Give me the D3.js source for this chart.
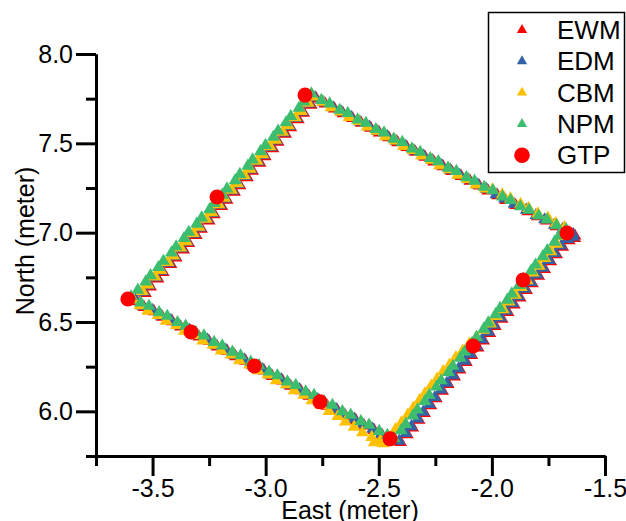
<!DOCTYPE html>
<html>
<head>
<meta charset="utf-8">
<script src="https://cdn.jsdelivr.net/npm/d3@7"></script>
<style>
  body { margin: 0; background: #fff; }
  svg text { font-family: Arial, "Liberation Sans", sans-serif; fill: #000; }
</style>
</head>
<body>
<div id="chart"></div>
<script>
// Estimated trajectories, [East, North] in meters
var ewm = [
  [-1.633,6.982],[-1.681,7.013],[-1.717,7.035],[-1.760,7.066],[-1.799,7.091],[-1.841,7.119],[-1.895,7.153],[-1.939,7.181],[-1.975,7.208],[-2.018,7.235],[-2.056,7.262],[-2.097,7.289],[-2.136,7.316],[-2.178,7.343],[-2.216,7.370],[-2.257,7.397],[-2.296,7.424],[-2.338,7.451],[-2.376,7.478],[-2.417,7.505],[-2.456,7.532],[-2.498,7.559],[-2.536,7.586],[-2.577,7.613],[-2.616,7.640],[-2.658,7.667],[-2.696,7.694],[-2.737,7.721],
  [-2.776,7.750],[-2.799,7.714],[-2.832,7.669],[-2.856,7.633],[-2.889,7.588],[-2.912,7.552],[-2.945,7.507],[-2.968,7.471],[-3.002,7.426],[-3.025,7.390],[-3.058,7.345],[-3.081,7.309],[-3.114,7.264],[-3.138,7.228],[-3.171,7.183],[-3.194,7.147],[-3.227,7.102],[-3.250,7.066],[-3.284,7.021],[-3.307,6.985],[-3.340,6.940],[-3.363,6.904],[-3.396,6.859],[-3.419,6.823],[-3.453,6.778],[-3.476,6.742],[-3.509,6.697],[-3.532,6.661],
  [-3.569,6.615],[-3.538,6.583],[-3.494,6.559],[-3.457,6.528],[-3.413,6.503],[-3.376,6.473],[-3.332,6.448],[-3.295,6.417],[-3.251,6.393],[-3.214,6.362],[-3.170,6.337],[-3.133,6.307],[-3.089,6.282],[-3.052,6.251],[-3.007,6.227],[-2.971,6.196],[-2.926,6.171],[-2.890,6.141],[-2.845,6.116],[-2.809,6.085],[-2.764,6.060],[-2.728,6.030],[-2.683,6.005],[-2.647,5.974],[-2.602,5.950],[-2.565,5.919],[-2.521,5.894],[-2.484,5.864],[-2.446,5.835],
  [-2.404,5.827],[-2.374,5.870],[-2.350,5.908],[-2.322,5.951],[-2.298,5.989],[-2.270,6.032],[-2.246,6.071],[-2.218,6.113],[-2.193,6.152],[-2.165,6.194],[-2.141,6.233],[-2.113,6.275],[-2.089,6.314],[-2.061,6.356],[-2.037,6.395],[-2.009,6.437],[-1.985,6.476],[-1.955,6.516],[-1.929,6.555],[-1.901,6.596],[-1.875,6.635],[-1.847,6.677],[-1.821,6.715],[-1.793,6.757],[-1.767,6.795],[-1.740,6.838],[-1.714,6.877],[-1.687,6.919],[-1.658,6.956],[-1.634,6.968]
];

var edm = [
  [-1.640,6.990],[-1.687,7.019],[-1.724,7.043],[-1.767,7.073],[-1.805,7.097],[-1.848,7.127],[-1.902,7.160],[-1.944,7.189],[-1.982,7.214],[-2.024,7.243],[-2.062,7.268],[-2.104,7.297],[-2.142,7.322],[-2.184,7.351],[-2.222,7.376],[-2.264,7.405],[-2.302,7.430],[-2.344,7.459],[-2.382,7.484],[-2.424,7.513],[-2.462,7.538],[-2.504,7.567],[-2.542,7.592],[-2.584,7.621],[-2.622,7.646],[-2.664,7.675],[-2.702,7.700],[-2.744,7.729],
  [-2.782,7.757],[-2.806,7.721],[-2.838,7.676],[-2.863,7.640],[-2.895,7.595],[-2.919,7.559],[-2.951,7.514],[-2.975,7.478],[-3.008,7.433],[-3.032,7.397],[-3.064,7.352],[-3.088,7.316],[-3.120,7.271],[-3.145,7.235],[-3.177,7.190],[-3.201,7.154],[-3.233,7.109],[-3.257,7.073],[-3.290,7.028],[-3.314,6.992],[-3.346,6.947],[-3.370,6.911],[-3.402,6.866],[-3.426,6.830],[-3.459,6.785],[-3.483,6.749],[-3.515,6.704],[-3.539,6.668],
  [-3.575,6.622],[-3.544,6.590],[-3.500,6.566],[-3.463,6.535],[-3.419,6.510],[-3.382,6.480],[-3.338,6.455],[-3.301,6.424],[-3.257,6.400],[-3.220,6.369],[-3.176,6.344],[-3.139,6.314],[-3.095,6.289],[-3.058,6.258],[-3.013,6.234],[-2.977,6.203],[-2.932,6.178],[-2.896,6.148],[-2.851,6.123],[-2.815,6.092],[-2.770,6.067],[-2.734,6.037],[-2.689,6.012],[-2.653,5.981],[-2.608,5.957],[-2.571,5.926],[-2.527,5.901],[-2.490,5.871],[-2.452,5.842],
  [-2.410,5.834],[-2.380,5.877],[-2.356,5.915],[-2.328,5.958],[-2.304,5.996],[-2.276,6.039],[-2.252,6.078],[-2.224,6.120],[-2.199,6.159],[-2.171,6.201],[-2.147,6.240],[-2.119,6.282],[-2.095,6.321],[-2.067,6.363],[-2.043,6.402],[-2.015,6.444],[-1.991,6.483],[-1.961,6.523],[-1.935,6.562],[-1.907,6.603],[-1.881,6.642],[-1.853,6.684],[-1.827,6.722],[-1.799,6.764],[-1.773,6.802],[-1.746,6.845],[-1.720,6.884],[-1.693,6.926],[-1.664,6.963],[-1.640,6.975]
];

var cbm = [
  [-1.679,7.029],[-1.717,7.051],[-1.752,7.083],[-1.797,7.106],[-1.838,7.137],[-1.873,7.160],[-1.918,7.190],[-1.954,7.213],[-1.997,7.240],[-2.029,7.245],[-2.071,7.268],[-2.108,7.299],[-2.151,7.322],[-2.189,7.353],[-2.231,7.376],[-2.268,7.407],[-2.311,7.430],[-2.349,7.461],[-2.391,7.484],[-2.428,7.515],[-2.471,7.538],[-2.509,7.569],[-2.551,7.592],[-2.588,7.623],[-2.631,7.646],[-2.669,7.677],[-2.711,7.700],[-2.748,7.731],
  [-2.790,7.760],[-2.812,7.725],[-2.843,7.680],[-2.869,7.644],[-2.900,7.599],[-2.925,7.563],[-2.956,7.518],[-2.981,7.482],[-3.013,7.437],[-3.038,7.401],[-3.069,7.356],[-3.094,7.320],[-3.125,7.275],[-3.151,7.239],[-3.182,7.194],[-3.207,7.158],[-3.238,7.113],[-3.263,7.077],[-3.295,7.032],[-3.320,6.996],[-3.351,6.951],[-3.376,6.915],[-3.407,6.870],[-3.432,6.834],[-3.464,6.789],[-3.489,6.753],[-3.520,6.708],[-3.545,6.672],
  [-3.585,6.625],[-3.556,6.592],[-3.521,6.561],[-3.476,6.537],[-3.440,6.505],[-3.395,6.482],[-3.359,6.450],[-3.314,6.426],[-3.278,6.395],[-3.233,6.371],[-3.197,6.339],[-3.152,6.316],[-3.116,6.284],[-3.071,6.260],[-3.034,6.229],[-2.990,6.205],[-2.953,6.173],[-2.909,6.150],[-2.874,6.117],[-2.832,6.091],[-2.795,6.060],[-2.754,6.034],[-2.720,6.000],[-2.681,5.972],[-2.648,5.941],[-2.609,5.912],[-2.572,5.882],[-2.531,5.855],[-2.520,5.825],[-2.493,5.835],[-2.480,5.820],
  [-2.455,5.852],[-2.426,5.899],[-2.400,5.936],[-2.372,5.980],[-2.348,6.017],[-2.320,6.061],[-2.296,6.099],[-2.268,6.142],[-2.243,6.180],[-2.215,6.223],[-2.187,6.260],[-2.159,6.302],[-2.129,6.338],[-2.099,6.379],[-2.068,6.414],[-2.037,6.455],[-2.006,6.490],[-1.979,6.532],[-1.950,6.570],[-1.924,6.613],[-1.896,6.651],[-1.870,6.694],[-1.844,6.732],[-1.818,6.775],[-1.791,6.813],[-1.766,6.856],[-1.739,6.894],[-1.713,6.937],[-1.688,6.980]
];

var npm = [
  [-1.672,7.018],[-1.714,7.040],[-1.756,7.072],[-1.793,7.094],[-1.836,7.127],[-1.874,7.146],[-1.917,7.181],[-1.953,7.201],[-1.996,7.236],[-2.034,7.255],[-2.077,7.289],[-2.113,7.309],[-2.157,7.344],[-2.194,7.362],[-2.237,7.398],[-2.273,7.416],[-2.317,7.451],[-2.354,7.470],[-2.396,7.506],[-2.434,7.524],[-2.477,7.559],[-2.513,7.578],[-2.557,7.613],[-2.594,7.632],[-2.637,7.668],[-2.673,7.686],[-2.717,7.722],[-2.754,7.741],
  [-2.798,7.778],[-2.831,7.733],[-2.853,7.697],[-2.889,7.651],[-2.910,7.616],[-2.945,7.570],[-2.966,7.535],[-3.001,7.489],[-3.023,7.454],[-3.058,7.408],[-3.079,7.373],[-3.114,7.327],[-3.135,7.292],[-3.171,7.246],[-3.192,7.211],[-3.227,7.165],[-3.248,7.130],[-3.283,7.084],[-3.305,7.049],[-3.340,7.003],[-3.361,6.968],[-3.396,6.922],[-3.417,6.887],[-3.452,6.841],[-3.474,6.806],[-3.509,6.760],[-3.530,6.725],[-3.565,6.679],
  [-3.595,6.642],[-3.553,6.608],[-3.516,6.589],[-3.471,6.553],[-3.435,6.533],[-3.390,6.498],[-3.354,6.478],[-3.309,6.442],[-3.273,6.423],[-3.228,6.387],[-3.192,6.367],[-3.147,6.332],[-3.111,6.312],[-3.066,6.276],[-3.029,6.257],[-2.985,6.221],[-2.948,6.201],[-2.904,6.166],[-2.867,6.146],[-2.823,6.110],[-2.786,6.090],[-2.742,6.055],[-2.705,6.035],[-2.661,5.999],[-2.624,5.980],[-2.579,5.944],[-2.543,5.924],[-2.498,5.889],[-2.462,5.866],
  [-2.432,5.848],[-2.401,5.893],[-2.381,5.928],[-2.349,5.975],[-2.329,6.009],[-2.297,6.056],[-2.277,6.091],[-2.245,6.137],[-2.224,6.172],[-2.192,6.218],[-2.172,6.253],[-2.140,6.299],[-2.120,6.334],[-2.088,6.380],[-2.068,6.415],[-2.036,6.461],[-2.016,6.496],[-1.984,6.542],[-1.964,6.577],[-1.932,6.623],[-1.912,6.658],[-1.880,6.705],[-1.860,6.739],[-1.827,6.786],[-1.807,6.820],[-1.775,6.867],[-1.755,6.901],[-1.723,6.948],[-1.703,6.982]
];

// ground truth points
var gtpEast  = [-2.826, -3.215, -3.609, -3.330, -3.050, -2.760, -2.450, -2.083, -1.862, -1.668];
var gtpNorth = [ 7.770,  7.200,  6.629,  6.444,  6.254,  6.053,  5.846,  6.366,  6.735,  6.998];

var seriesNames = ['EWM', 'EDM', 'CBM', 'NPM', 'GTP'];
var xTicks = [-3.5, -3.0, -2.5, -2.0, -1.5];
var xMinor = [-3.75, -3.25, -2.75, -2.25, -1.75];
var yTicks = [6.0, 6.5, 7.0, 7.5, 8.0];
var yMinor = [5.75, 6.25, 6.75, 7.25, 7.75];

var svgWidth = 626;
var svgHeight = 521;
var colors = { EWM: '#ff0000', EDM: '#3363a6', CBM: '#ffc000', NPM: '#3dbd6e', GTP: '#ff0000' };

var svg = d3.select('#chart')
  .append('svg')
  .attr('width', svgWidth)
  .attr('height', svgHeight);

var xScale = d3.scaleLinear().domain([-3.75, -1.5]).range([96, 605]);
var yScale = d3.scaleLinear().domain([5.75, 8.0]).range([456, 54]);

// axes: minor ticks first, then major ticks with labels
function styleAxis(g) {
  g.select('.domain').attr('stroke', '#000').attr('stroke-width', 3);
  g.selectAll('.tick line').attr('stroke', '#000').attr('stroke-width', 3);
  g.selectAll('.tick text').attr('font-size', 25).attr('fill', '#000');
}

svg.append('g')
  .attr('transform', 'translate(0,456)')
  .call(d3.axisBottom(xScale).tickValues(xMinor).tickSize(10).tickSizeOuter(0).tickFormat(''))
  .call(styleAxis);
svg.append('g')
  .attr('transform', 'translate(0,456)')
  .call(d3.axisBottom(xScale).tickValues(xTicks).tickSize(20).tickSizeOuter(0).tickPadding(3)
    .tickFormat(d => d.toFixed(1)))
  .call(styleAxis);

svg.append('g')
  .attr('transform', 'translate(96,0)')
  .call(d3.axisLeft(yScale).tickValues(yMinor).tickSize(10).tickSizeOuter(0).tickFormat(''))
  .call(styleAxis);
svg.append('g')
  .attr('transform', 'translate(96,0)')
  .call(d3.axisLeft(yScale).tickValues(yTicks).tickSize(20).tickSizeOuter(0).tickPadding(3)
    .tickFormat(d => d.toFixed(1)))
  .call(styleAxis);

// axis titles
svg.append('text')
  .attr('x', 350)
  .attr('y', 519)
  .attr('text-anchor', 'middle')
  .attr('font-size', 25)
  .text('East (meter)');

svg.append('text')
  .attr('transform', 'translate(34,241) rotate(-90)')
  .attr('text-anchor', 'middle')
  .attr('font-size', 25)
  .text('North (meter)');

// trajectories
var tri = d3.symbol().type(d3.symbolTriangle).size(72);
var plotData = { EWM: ewm, EDM: edm, CBM: cbm, NPM: npm };

['EWM', 'EDM', 'CBM', 'NPM'].forEach(function(name) {
  svg.append('g')
    .selectAll('path')
    .data(plotData[name])
    .enter()
    .append('path')
    .attr('d', tri)
    .attr('transform', d => 'translate(' + xScale(d[0]) + ',' + yScale(d[1]) + ')')
    .attr('fill', colors[name]);
});

svg.append('g')
  .selectAll('circle')
  .data(gtpEast)
  .enter()
  .append('circle')
  .attr('cx', d => xScale(d))
  .attr('cy', (d, i) => yScale(gtpNorth[i]))
  .attr('r', 7.5)
  .attr('fill', colors.GTP);

// legend
var legend = svg.append('g');
legend.append('rect')
  .attr('x', 488.5)
  .attr('y', 12.5)
  .attr('width', 136)
  .attr('height', 160)
  .attr('fill', '#fff')
  .attr('stroke', '#000')
  .attr('stroke-width', 1.5);

var legendTri = d3.symbol().type(d3.symbolTriangle).size(46);
seriesNames.forEach(function(name, i) {
  var ly = 30 + i * 31.3;
  if (name === 'GTP') {
    legend.append('circle').attr('cx', 522).attr('cy', ly).attr('r', 7.8).attr('fill', colors[name]);
  } else {
    legend.append('path').attr('d', legendTri)
      .attr('transform', 'translate(522,' + ly + ')')
      .attr('fill', colors[name]);
  }
  legend.append('text')
    .attr('x', 557)
    .attr('y', ly + 9)
    .attr('font-size', 26)
    .text(name);
});
</script>
</body>
</html>
